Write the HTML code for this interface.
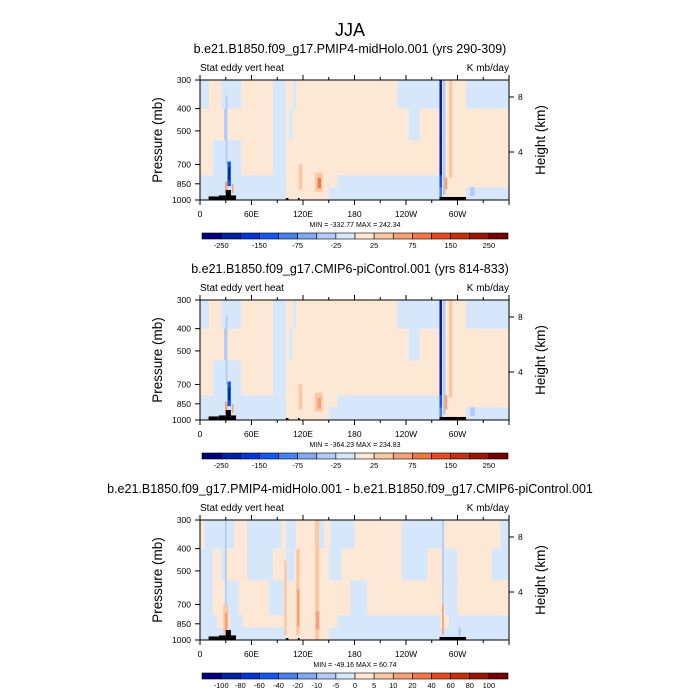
<!DOCTYPE html>
<html><head><meta charset="utf-8"><style>
html,body{margin:0;padding:0;background:#fff}
svg{display:block;font-family:"Liberation Sans",sans-serif}
</style></head><body>
<svg id="chart" width="700" height="700" viewBox="0 0 700 700" xmlns="http://www.w3.org/2000/svg">
<text x="350" y="36" font-size="18" text-anchor="middle">JJA</text>
</svg>
<script>
const colors = ["#00007f","#0022a0","#0034d2","#1458f0","#4682f0","#82aaf2","#b2cbf7","#d6e7fb","#fde8d6","#fbc8a6","#f8a078","#f07846","#e64a20","#c6300e","#9c1806","#740000"];
const levels1 = [-250,-200,-150,-100,-75,-50,-25,0,25,50,75,100,150,200,250];
const levels3 = [-100,-80,-60,-40,-20,-10,-5,0,5,10,20,40,60,80,100];
const labels1 = ["-250","","-150","","-75","","-25","","25","","75","","150","","250"];
const labels3 = ["-100","-80","-60","-40","-20","-10","-5","0","5","10","20","40","60","80","100"];
const xTickLabels = ["0","60E","120E","180","120W","60W"];
const xTickLons = [0,60,120,180,240,300];
const pTicks = [300,400,500,700,850,1000];
const hTicks = [8,4];
const bandEdges = [300,400,550,780,880,1000];
// runs per pressure band: [lonStart, lonEnd, value]
const p1A = [[0,10,-10],[10,25,10],[25,48,-10],[48,85,10],[85,100,-10],[100,108,10],[108,112,-10],[112,230,10],[230,279,-10],[279,282,-250],[282,310,10],[310,360,-10]];
const p1B = [[0,28,10],[28,32,-30],[32,85,10],[85,100,-10],[100,104,10],[104,108,-10],[108,243,10],[243,256,-10],[256,279,10],[279,282,-250],[282,360,10]];
const p1C = [[0,15,10],[15,48,-10],[48,85,10],[85,100,-10],[100,279,10],[279,282,-250],[282,360,10]];
const p1D = [[0,100,-10],[100,160,10],[160,279,-10],[279,282,-150],[282,360,10]];
const p1E = [[0,100,-10],[100,150,10],[150,279,-10],[279,282,-100],[282,310,10],[310,360,-10]];
const p2A = p1A, p2B = p1B, p2C = p1C, p2D = p1D, p2E = p1E;
const p3A = [[0,5,3],[5,40,-3],[40,55,3],[55,95,-3],[95,100,3],[100,112,-3],[112,135,3],[135,145,-3],[145,152,3],[152,180,-3],[180,235,3],[235,285,-3],[285,330,3],[330,350,3],[350,360,-3]];
const p3B = [[0,15,-3],[15,25,3],[25,30,-3],[30,55,3],[55,85,-3],[85,100,3],[100,110,-3],[110,150,3],[150,165,-3],[165,235,3],[235,265,-3],[265,283,3],[283,300,-3],[300,340,3],[340,360,-3]];
const p3C = [[0,15,-3],[15,30,3],[30,45,-3],[45,80,3],[80,100,-3],[100,160,3],[160,175,3],[175,195,-3],[195,285,3],[285,300,-3],[300,360,3]];
const p3D = [[0,20,-3],[20,35,3],[35,50,-3],[50,150,3],[150,160,3],[160,280,-3],[280,290,3],[290,360,-3]];
const p3E = [[0,100,-3],[100,150,3],[150,360,-3]];
// streaks: [lon0, lon1, pTop, pBottom, value]
const streaks1 = [[30,32,350,700,-30],[32,36,680,870,-150],[33,35,720,820,-250],[29,32,830,930,60],[37,39,850,930,60],[134,143,760,920,30],[137,141,800,890,90],[115,119,700,900,30],[283,286,300,950,-30],[290,294,300,800,30],[285,288,800,900,60],[315,320,880,960,-30]];
const streaks2 = [[30,32,350,700,-30],[32,36,680,870,-150],[33,35,720,820,-250],[29,32,830,930,60],[37,39,850,930,60],[134,143,760,920,30],[137,141,800,890,60],[115,119,700,900,30],[283,286,300,950,-30],[290,294,300,800,30],[285,288,780,900,60],[315,320,880,960,-30]];
const streaks3 = [[29,31,300,750,-10],[27,33,700,950,7],[29,32,760,930,15],[98,101,450,950,7],[112,116,400,950,7],[113,116,600,870,15],[134,139,300,1000,7],[135,139,750,900,15],[282,284,300,700,-10],[282,284,700,950,15],[301,304,880,960,-10]];
// surface topography: [lon0, lon1, psurf]
const topo = [[10,22,965],[22,30,955],[30,36,905],[36,42,955],[100,103,980],[114,116,980],[279,282,970],[282,310,970]];

const svg = document.getElementById('chart');
const NS = "http://www.w3.org/2000/svg";
function mk(tag, attrs, parent){const e=document.createElementNS(NS,tag);for(const k in attrs)e.setAttribute(k,attrs[k]);(parent||svg).appendChild(e);return e;}
function colorFor(v, lv){let i=0;while(i<lv.length && v>=lv[i])i++;return colors[i];}

function panel(y0, title, bands, streaks, lv, labs, minmax){
  const x0=200, x1=509, y1=y0+120;
  const xs = lon => x0 + (x1-x0)*lon/360;
  const ys = p => y0 + (y1-y0)*Math.log(p/300)/Math.log(1000/300);
  const yh = km => y1 + 7 - 13.75*km;
  const g = mk('g',{});
  
  
  const t = mk('text',{x:350,y:y0-27,'font-size':12.5,'text-anchor':'middle'},g); t.textContent=title;
   
  const l = mk('text',{x:x0,y:y0-9,'font-size':10},g); l.textContent='Stat eddy vert heat';
   
  const r = mk('text',{x:x1,y:y0-9,'font-size':10,'text-anchor':'end'},g); r.textContent='K mb/day';
   
  bands.forEach((runs,b)=>{runs.forEach(run=>{
    const c = mk('rect',{x:xs(run[0]),y:ys(bandEdges[b]),width:xs(run[1])-xs(run[0])+0.4,height:ys(bandEdges[b+1])-ys(bandEdges[b])+0.4,fill:colorFor(run[2],lv)},g);
     
  });});
  streaks.forEach(s=>{
    const c = mk('rect',{x:xs(s[0]),y:ys(s[2]),width:xs(s[1])-xs(s[0]),height:ys(s[3])-ys(s[2]),fill:colorFor(s[4],lv)},g);
     
  });
  topo.forEach(s=>{
    const c = mk('rect',{x:xs(s[0]),y:ys(s[2]),width:xs(s[1])-xs(s[0]),height:y1-ys(s[2]),fill:'#000'},g);
     
  });
  const fr = mk('rect',{x:x0,y:y0,width:x1-x0,height:120,fill:'none',stroke:'#000','stroke-width':1},g);
   
  pTicks.forEach(p=>{
    mk('line',{x1:x0-5,x2:x0,y1:ys(p),y2:ys(p),stroke:'#000'},g);
    const tt=mk('text',{x:x0-9,y:ys(p)+3,'font-size':8.5,'text-anchor':'end'},g); tt.textContent=p;
     
  });
  hTicks.forEach(h=>{
    mk('line',{x1:x1,x2:x1+5,y1:yh(h),y2:yh(h),stroke:'#000'},g);
    const tt=mk('text',{x:x1+9,y:yh(h)+3,'font-size':8.5},g); tt.textContent=h;
     
  });
  for(let lon=0;lon<=360;lon+=30){
    const len = lon%60===0?5:3;
    mk('line',{x1:xs(lon),x2:xs(lon),y1:y1,y2:y1+len,stroke:'#000'},g);
    mk('line',{x1:xs(lon),x2:xs(lon),y1:y0,y2:y0-len,stroke:'#000'},g);
  }
  xTickLabels.forEach((s,i)=>{
    const tt=mk('text',{x:xs(xTickLons[i]),y:y1+17,'font-size':8.5,'text-anchor':'middle'},g); tt.textContent=s;
     
  });
  const mm=mk('text',{x:355,y:y1+27,'font-size':7,'text-anchor':'middle'},g); mm.textContent=minmax;
   
  const yt=mk('text',{x:0,y:0,'font-size':13.5,'text-anchor':'middle',transform:`translate(162,${y0+60}) rotate(-90)`},g); yt.textContent='Pressure (mb)';
   
  const ht=mk('text',{x:0,y:0,'font-size':13.5,'text-anchor':'middle',transform:`translate(545,${y0+60}) rotate(-90)`},g); ht.textContent='Height (km)';
   
  const cx0=202, cx1=508, cy=y0+153, bw=(cx1-cx0)/16;
  colors.forEach((c,i)=>{
    const b=mk('rect',{x:cx0+i*bw,y:cy,width:bw,height:6,fill:c,stroke:'#000','stroke-width':0.6},g);
     
  });
  labs.forEach((s,i)=>{
    if(!s) return;
    const tt=mk('text',{x:cx0+(i+1)*bw,y:cy+15,'font-size':7.5,'text-anchor':'middle'},g); tt.textContent=s;
     
  });
}
panel(80,'b.e21.B1850.f09_g17.PMIP4-midHolo.001 (yrs 290-309)',[p1A,p1B,p1C,p1D,p1E],streaks1,levels1,labels1,'MIN = -332.77  MAX = 242.34');
panel(300,'b.e21.B1850.f09_g17.CMIP6-piControl.001 (yrs 814-833)',[p2A,p2B,p2C,p2D,p2E],streaks2,levels1,labels1,'MIN = -364.23  MAX = 234.83');
panel(520,'b.e21.B1850.f09_g17.PMIP4-midHolo.001 - b.e21.B1850.f09_g17.CMIP6-piControl.001',[p3A,p3B,p3C,p3D,p3E],streaks3,levels3,labels3,'MIN = -49.16  MAX = 60.74');
</script>
</body></html>
